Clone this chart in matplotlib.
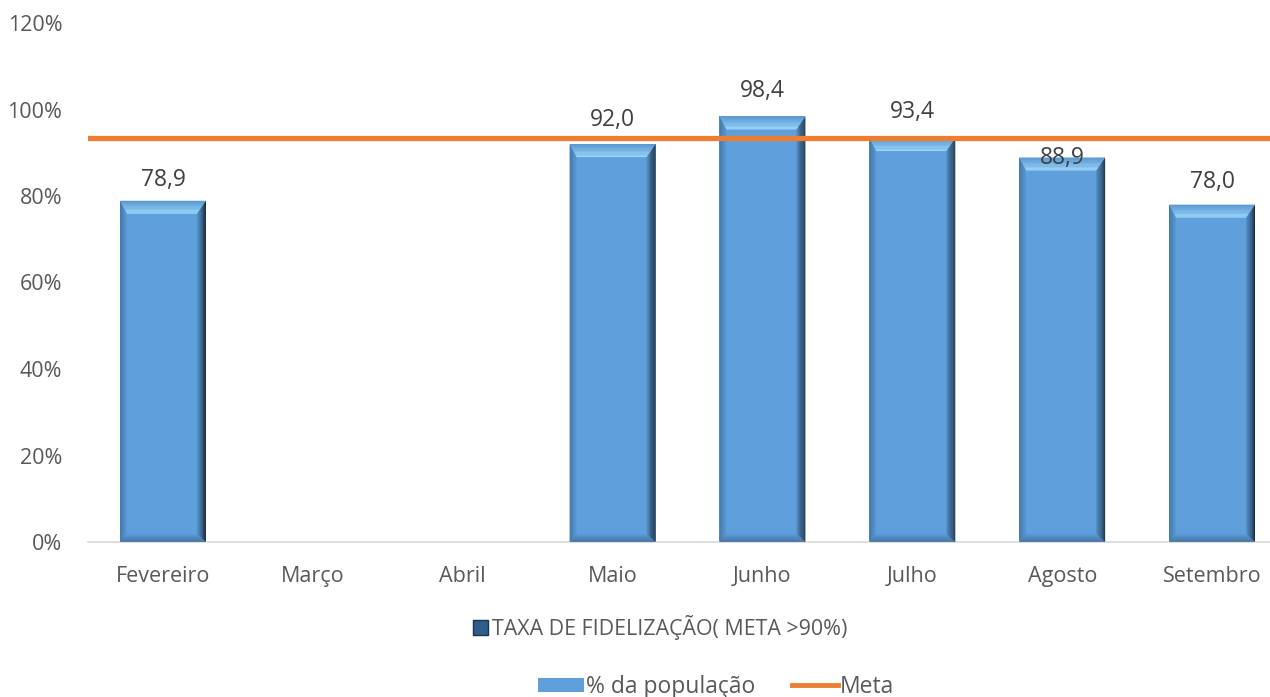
import matplotlib.pyplot as plt
from matplotlib.patches import Polygon, Patch
from matplotlib.lines import Line2D
from matplotlib.colors import to_rgb
import numpy as np

meses = ["Fevereiro", "Março", "Abril", "Maio", "Junho", "Julho", "Agosto", "Setembro"]
populacao = [78.9, None, None, 92.0, 98.4, 93.4, 88.9, 78.0]
meta = 93.3
yticks = [0, 20, 40, 60, 80, 100, 120]
# vertical offset (px) of each data label above the bar top
label_off = [21, 0, 0, 24, 25, 26, 0, 23]

plt.rcParams['font.family'] = ['Open Sans', 'DejaVu Sans']
W, H = 1270, 697
fig = plt.figure(figsize=(W / 100, H / 100), dpi=100)
ax = fig.add_axes([88 / W, 155 / H, 1199 / W, 519 / H])

x = np.arange(len(meses))
bw = 0.573
ax.set_xlim(-0.5, len(meses) - 0.5)
ax.set_ylim(0, 120)

# pixel -> data scales for the bevel
px_x = len(meses) / 1199
px_y = 120 / 519
bl, br = 7 * px_x, 9 * px_x
bt, bb = 13 * px_y, 8 * px_y

face = '#5FA0DC'


def mix(c0, c1, t):
    a, b = np.array(to_rgb(c0)), np.array(to_rgb(c1))
    return a + (b - a) * t


def bevel_side(p_out0, p_out1, p_in0, p_in1, c_out, c_in, n=10):
    # strips going from the outer edge towards the inner edge
    p_out0, p_out1 = np.array(p_out0), np.array(p_out1)
    p_in0, p_in1 = np.array(p_in0), np.array(p_in1)
    for k in range(n):
        t0, t1 = k / n, (k + 1) / n
        a0 = p_out0 + (p_in0 - p_out0) * t0
        b0 = p_out1 + (p_in1 - p_out1) * t0
        a1 = p_out0 + (p_in0 - p_out0) * t1
        b1 = p_out1 + (p_in1 - p_out1) * t1
        ax.add_patch(Polygon([a0, b0, b1, a1], closed=True,
                             facecolor=mix(c_out, c_in, (k + 0.5) / n),
                             edgecolor='none', zorder=3))


for xi, v in zip(x, populacao):
    if v is None:
        continue
    l, r = xi - bw / 2, xi + bw / 2
    ax.add_patch(Polygon([(l, 0), (r, 0), (r, v), (l, v)], closed=True,
                         facecolor=face, edgecolor='none', zorder=2))
    il, ir, ib, it = l + bl, r - br, bb, v - bt
    # left
    bevel_side((l, 0), (l, v), (il, ib), (il, it), '#3B6D9E', '#5A98D2')
    # right
    bevel_side((r, 0), (r, v), (ir, ib), (ir, it), '#141F2B', '#5592CB')
    # bottom
    bevel_side((l, 0), (r, 0), (il, ib), (ir, ib), '#3A6895', '#5B9AD5')
    # top
    bevel_side((l, v), (r, v), (il, it), (ir, it), '#5896D0', '#A0DAFC')

ax.axhline(meta, color='#ED7D31', lw=3.8, zorder=4)

for xi, v, off in zip(x, populacao, label_off):
    if v is None:
        continue
    ax.annotate(f"{v:.1f}".replace('.', ','), (xi, v), xytext=(0, off),
                textcoords='offset pixels', ha='center', va='center',
                fontsize=16.5, color='#404040', zorder=5)

ax.set_xticks(x)
ax.set_xticklabels(meses, fontsize=15.5, color='#595959')
ax.set_yticks(yticks)
ax.set_yticklabels([f"{t}%" for t in yticks], fontsize=15.5, color='#595959')
ax.tick_params(length=0)
ax.tick_params(axis='x', pad=17)
ax.tick_params(axis='y', pad=18.5)
for s in ['top', 'right', 'left']:
    ax.spines[s].set_visible(False)
ax.spines['bottom'].set_color('#D9D9D9')
ax.spines['bottom'].set_linewidth(1.2)

fig.legend(handles=[Patch(facecolor='#2F5E8C', edgecolor='#1B3550')],
           labels=['TAXA DE FIDELIZAÇÃO( META >90%)'],
           loc='center', bbox_to_anchor=(660 / W, 1 - 627 / H),
           frameon=False, fontsize=15.4, handlelength=0.7, handleheight=0.7,
           handletextpad=0.2, labelcolor='#595959')
fig.legend(handles=[Patch(facecolor=face, edgecolor='none'),
                    Line2D([], [], color='#ED7D31', lw=3.5)],
           labels=['% da população', 'Meta'],
           loc='center', bbox_to_anchor=(716 / W, 1 - 687 / H), ncol=2,
           frameon=False, fontsize=16.5, handlelength=2.0, handleheight=0.55,
           handletextpad=0.1, columnspacing=1.6, labelcolor='#595959')

fig.savefig('out.png', dpi=100)
